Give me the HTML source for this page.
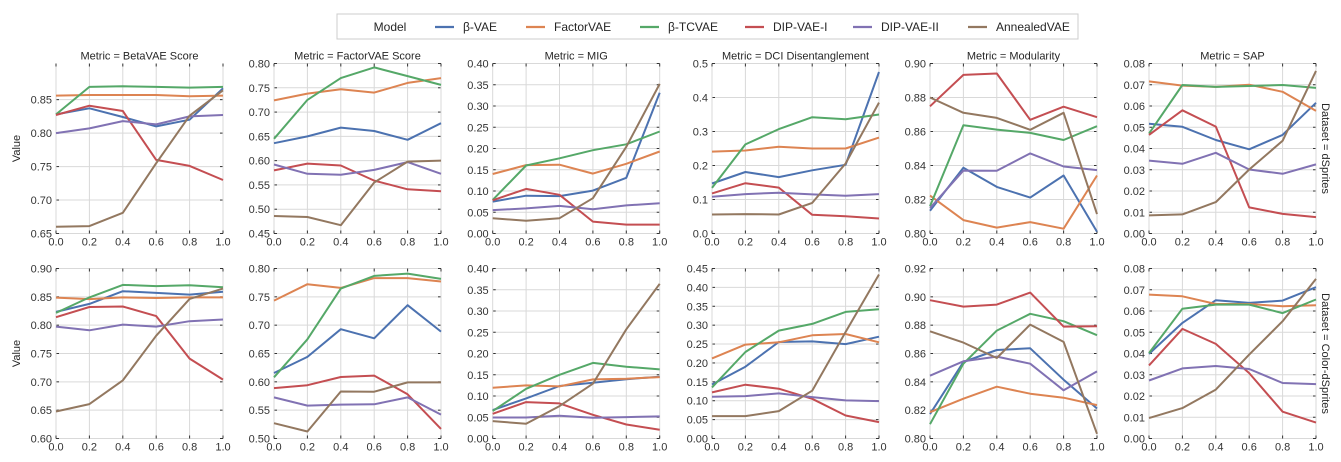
<!DOCTYPE html>
<html><head><meta charset="utf-8"><style>
html,body{margin:0;padding:0;background:#fff;}
svg{display:block;font-family:"Liberation Sans","DejaVu Sans",sans-serif;}
</style></head><body>
<svg id="chart" width="1341" height="462" viewBox="0 0 1341 462" xmlns="http://www.w3.org/2000/svg">
<g id="legend">
<rect x="337" y="14" width="741" height="25" fill="#fff" stroke="#ccc" stroke-width="1"/>
<text x="390" y="31" font-size="12" fill="#262626" text-anchor="middle">Model</text>
</g>
<g id="panels"></g>
</svg>
<script>
const models = ["β-VAE","FactorVAE","β-TCVAE","DIP-VAE-I","DIP-VAE-II","AnnealedVAE"];
const colors = ["#4c72b0","#dd8452","#55a868","#c44e52","#8172b3","#937860"];
const xValues = [0,0.2,0.4,0.6,0.8,1.0];
const xTickLabels = ["0.0","0.2","0.4","0.6","0.8","1.0"];
const metrics = ["BetaVAE Score","FactorVAE Score","MIG","DCI Disentanglement","Modularity","SAP"];
const datasets = ["dSprites","Color-dSprites"];

// row 1: dSprites
const d1BetaVAE = [
[0.828,0.837,0.824,0.810,0.820,0.867],
[0.856,0.857,0.857,0.857,0.855,0.856],
[0.828,0.869,0.870,0.869,0.868,0.869],
[0.827,0.841,0.833,0.760,0.751,0.730],
[0.800,0.807,0.818,0.813,0.825,0.827],
[0.660,0.661,0.681,0.755,0.826,0.864]];
const d1FactorVAE = [
[0.636,0.650,0.668,0.661,0.643,0.677],
[0.724,0.738,0.747,0.740,0.760,0.770],
[0.645,0.725,0.770,0.792,0.774,0.756],
[0.580,0.594,0.590,0.559,0.541,0.537],
[0.592,0.573,0.571,0.581,0.597,0.573],
[0.486,0.484,0.467,0.555,0.598,0.600]];
const d1MIG = [
[0.075,0.089,0.088,0.101,0.131,0.331],
[0.140,0.161,0.162,0.141,0.164,0.193],
[0.079,0.160,0.177,0.196,0.210,0.240],
[0.078,0.105,0.091,0.028,0.021,0.021],
[0.055,0.059,0.065,0.057,0.066,0.071],
[0.036,0.030,0.036,0.083,0.204,0.352]];
const d1DCI = [
[0.147,0.181,0.166,0.186,0.202,0.475],
[0.241,0.244,0.255,0.250,0.250,0.282],
[0.134,0.262,0.307,0.342,0.336,0.350],
[0.118,0.148,0.135,0.055,0.051,0.044],
[0.108,0.116,0.120,0.115,0.111,0.116],
[0.056,0.057,0.056,0.090,0.206,0.385]];
const d1Modularity = [
[0.8134,0.8387,0.8274,0.8211,0.8341,0.801],
[0.8223,0.8079,0.8035,0.8067,0.8028,0.8341],
[0.816,0.8637,0.8611,0.8592,0.855,0.8631],
[0.8748,0.8933,0.8941,0.8669,0.8746,0.8684],
[0.815,0.837,0.8369,0.8471,0.8394,0.8373],
[0.880,0.871,0.868,0.861,0.871,0.8114]];
const d1SAP = [
[0.0516,0.0502,0.044,0.0396,0.0464,0.0615],
[0.0716,0.0696,0.069,0.070,0.0667,0.0577],
[0.047,0.0699,0.069,0.0694,0.0699,0.0685],
[0.0464,0.058,0.0503,0.0123,0.0092,0.0077],
[0.0343,0.0328,0.038,0.0301,0.0281,0.0325],
[0.0085,0.009,0.0148,0.0301,0.0436,0.0765]];
// row 2: Color-dSprites
const d2BetaVAE = [
[0.8234,0.8375,0.860,0.857,0.854,0.859],
[0.8487,0.846,0.849,0.848,0.849,0.849],
[0.8216,0.849,0.871,0.869,0.8705,0.867],
[0.814,0.832,0.833,0.816,0.741,0.704],
[0.7975,0.791,0.801,0.7975,0.807,0.810],
[0.6477,0.6607,0.7025,0.7815,0.8464,0.8646]];
const d2FactorVAE = [
[0.6156,0.644,0.6928,0.6768,0.7352,0.6886],
[0.7434,0.7723,0.7658,0.783,0.783,0.777],
[0.608,0.675,0.7646,0.787,0.791,0.7817],
[0.589,0.594,0.6085,0.611,0.578,0.517],
[0.5725,0.558,0.5598,0.5604,0.5725,0.5422],
[0.527,0.5124,0.583,0.5826,0.599,0.599]];
const d2MIG = [
[0.0668,0.0943,0.1236,0.131,0.1395,0.1453],
[0.1195,0.125,0.1226,0.139,0.1406,0.1445],
[0.0645,0.117,0.150,0.178,0.169,0.1627],
[0.0582,0.0857,0.0826,0.0558,0.033,0.0204],
[0.0495,0.0495,0.0535,0.0487,0.0503,0.0519],
[0.0409,0.0346,0.0762,0.129,0.257,0.364]];
const d2DCI = [
[0.143,0.190,0.2555,0.257,0.250,0.2696],
[0.212,0.2485,0.2546,0.2732,0.2767,0.2546],
[0.1353,0.229,0.2856,0.3033,0.335,0.342],
[0.122,0.1423,0.1317,0.1052,0.061,0.0433],
[0.1105,0.1123,0.1194,0.1096,0.1008,0.099],
[0.0592,0.0592,0.0725,0.1264,0.282,0.434]];
const d2Modularity = [
[0.8172,0.854,0.8625,0.8637,0.8415,0.8212],
[0.8186,0.8281,0.8366,0.8316,0.8288,0.8236],
[0.8101,0.8528,0.8762,0.888,0.8828,0.8729],
[0.8976,0.8931,0.8945,0.903,0.879,0.8792],
[0.8443,0.8545,0.8578,0.8528,0.834,0.8474],
[0.8757,0.8677,0.8568,0.8804,0.8682,0.8033]];
const d2SAP = [
[0.0398,0.0544,0.0651,0.0638,0.0649,0.0712],
[0.0677,0.0669,0.0633,0.0633,0.0622,0.0627],
[0.0402,0.0611,0.063,0.063,0.059,0.0654],
[0.0344,0.0516,0.0445,0.0308,0.0126,0.0075],
[0.0273,0.033,0.0341,0.0327,0.0261,0.0256],
[0.0096,0.0143,0.023,0.0395,0.0552,0.0751]];

const yTicks1 = [
["0.65","0.70","0.75","0.80","0.85"],
["0.45","0.50","0.55","0.60","0.65","0.70","0.75","0.80"],
["0.00","0.05","0.10","0.15","0.20","0.25","0.30","0.35","0.40"],
["0.0","0.1","0.2","0.3","0.4","0.5"],
["0.80","0.82","0.84","0.86","0.88","0.90"],
["0.00","0.01","0.02","0.03","0.04","0.05","0.06","0.07","0.08"]];
const yTicks2 = [
["0.60","0.65","0.70","0.75","0.80","0.85","0.90"],
["0.50","0.55","0.60","0.65","0.70","0.75","0.80"],
["0.00","0.05","0.10","0.15","0.20","0.25","0.30","0.35","0.40"],
["0.00","0.05","0.10","0.15","0.20","0.25","0.30","0.35","0.40","0.45"],
["0.80","0.82","0.84","0.86","0.88","0.90","0.92"],
["0.00","0.01","0.02","0.03","0.04","0.05","0.06","0.07","0.08"]];
const yLims1 = [[0.65,0.904],[0.45,0.80],[0,0.40],[0,0.5],[0.80,0.90],[0,0.08]];
const yLims2 = [[0.60,0.90],[0.50,0.80],[0,0.40],[0,0.45],[0.80,0.92],[0,0.08]];

const rows = [
 {data:[d1BetaVAE,d1FactorVAE,d1MIG,d1DCI,d1Modularity,d1SAP], ticks:yTicks1, lims:yLims1, top:63.5, bottom:233.5},
 {data:[d2BetaVAE,d2FactorVAE,d2MIG,d2DCI,d2Modularity,d2SAP], ticks:yTicks2, lims:yLims2, top:268.5, bottom:438.5}];
const colLeft = [56,274,492.7,712,930,1149];
const panelW = 167;
const NS = "http://www.w3.org/2000/svg";
const root = document.getElementById('panels');
function mk(tag, attrs, parent){
  const e = document.createElementNS(NS, tag);
  for (const k in attrs) e.setAttribute(k, attrs[k]);
  parent.appendChild(e); return e;
}
// legend entries
const legX = [435,526,640,745,853,968];
const legG = document.getElementById('legend');
models.forEach((m,i)=>{
  const g = mk('g',{},legG);
  
  
  mk('line',{x1:legX[i],x2:legX[i]+19,y1:27,y2:27,stroke:colors[i],'stroke-width':2.2},g);
  const t = mk('text',{x:legX[i]+28,y:31,'font-size':12,fill:'#262626'},g);
  t.textContent = m;
});

rows.forEach((row,r)=>{
  row.data.forEach((series,c)=>{
    const g = mk('g',{},root);
    
    
    const L = colLeft[c], R = L + panelW, T = row.top, B = row.bottom;
    const [y0,y1] = row.lims[c];
    const xs = v => L + v*(R-L);
    const ys = v => B - (v-y0)/(y1-y0)*(B-T);
    // grid
    row.ticks[c].forEach(lbl=>{
      const v = parseFloat(lbl), y = ys(v);
      mk('line',{x1:L,x2:R,y1:y,y2:y,stroke:'#d9d9d9','stroke-width':1},g);
      mk('line',{x1:L,x2:L+3,y1:y,y2:y,stroke:'#333','stroke-width':1},g);
      mk('line',{x1:R-3,x2:R,y1:y,y2:y,stroke:'#333','stroke-width':1},g);
      const t = mk('text',{x:L-4,y:y+4,'font-size':11,fill:'#333','text-anchor':'end'},g);
      
      
      t.textContent = lbl;
    });
    xValues.forEach((v,i)=>{
      const x = xs(v);
      mk('line',{x1:x,x2:x,y1:T,y2:B,stroke:'#d9d9d9','stroke-width':1},g);
      mk('line',{x1:x,x2:x,y1:B-3,y2:B,stroke:'#333','stroke-width':1},g);
      mk('line',{x1:x,x2:x,y1:T,y2:T+3,stroke:'#333','stroke-width':1},g);
      const t = mk('text',{x:x,y:B+12,'font-size':11,fill:'#333','text-anchor':'middle'},g);
      
      
      t.textContent = xTickLabels[i];
    });
    // series
    series.forEach((vals,s)=>{
      const pts = vals.map((v,i)=>xs(xValues[i]).toFixed(1)+','+ys(v).toFixed(1)).join(' ');
      const pl = mk('polyline',{points:pts,fill:'none',stroke:colors[s],'stroke-width':2,'stroke-linejoin':'round'},g);
      
      
    });
    if (r===0){
      const t = mk('text',{x:(L+R)/2,y:T-4,'font-size':11,fill:'#262626','text-anchor':'middle'},g);
      
      
      t.textContent = 'Metric = ' + metrics[c];
    }
    if (c===0){
      const cy=(T+B)/2;
      const t = mk('text',{x:20,y:cy,'font-size':11,fill:'#262626','text-anchor':'middle',transform:'rotate(-90 20 '+cy+')'},g);
      
      
      t.textContent = 'Value';
    }
    if (c===5){
      const cy=(T+B)/2, cx=1322;
      const t = mk('text',{x:cx,y:cy,'font-size':11,fill:'#262626','text-anchor':'middle',transform:'rotate(90 '+cx+' '+cy+')'},g);
      
      
      t.textContent = 'Dataset = ' + datasets[r];
    }
  });
});
</script>
</body></html>
